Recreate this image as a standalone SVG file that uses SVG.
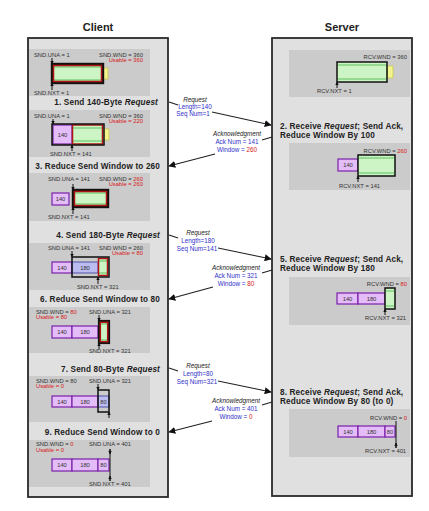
<svg xmlns="http://www.w3.org/2000/svg" width="429" height="511" viewBox="0 0 429 511">
<style>
text{font-family:"Liberation Sans",Arial,sans-serif}
.title{font-size:11px;font-weight:bold;fill:#222;text-anchor:middle}
.box{fill:#e0e0e0;stroke:#2a2a2a;stroke-width:1.8}
.panel{fill:#cbcbcb}
.lbl{font-size:5.8px;fill:#333}
.end{text-anchor:end}
.red{fill:#d81818}
.step{font-size:8.2px;font-weight:bold;fill:#222;letter-spacing:0.15px}
.sstep{font-size:8.2px;font-weight:bold;fill:#222;letter-spacing:0.15px}
.it{font-style:italic}
.seg{fill:#e4bcf7;stroke:#7a22a8;stroke-width:1.2}
.segb{fill:#bcbcf0;stroke:#5050a8;stroke-width:1}
.num{font-size:5.8px;fill:#333;text-anchor:middle}
.grn{fill:#ccf4c4}
.stripe{stroke:#5cc05c;stroke-width:1}
.blk{fill:none;stroke:#111;stroke-width:1.5}
.rd{fill:none;stroke:#b01414;stroke-width:1.5}
.yel{fill:#f4f48c;stroke:#c8c850;stroke-width:0.8}
.mk{stroke:#111;stroke-width:1}
.msg{font-size:6.3px;fill:#3030c8;text-anchor:middle}
.ack{font-size:6.3px;fill:#222;text-anchor:middle;font-style:italic}
.conn{stroke:#222;stroke-width:1.2;fill:none}
.arr{marker-end:url(#ah)}
</style>
<defs>
<marker id="ah" viewBox="0 0 10 10" refX="9" refY="5" markerWidth="7" markerHeight="7" markerUnits="userSpaceOnUse" orient="auto">
<path d="M0,0 L10,5 L0,10 z" fill="#111"/>
</marker>
<marker id="sm" viewBox="0 0 10 10" refX="9" refY="5" markerWidth="3.5" markerHeight="3.5" markerUnits="userSpaceOnUse" orient="auto">
<path d="M0,0 L10,5 L0,10 z" fill="#111"/>
</marker>
</defs>
<rect width="429" height="511" fill="#ffffff"/>

<text class="title" x="98" y="31">Client</text>
<text class="title" x="342" y="31">Server</text>

<g id="client-box"><rect class="box" x="28" y="38" width="140" height="459"/></g>
<g id="server-box"><rect class="box" x="272" y="38" width="140" height="458"/></g>

<g id="client-state0">
<rect class="panel" x="29" y="49" width="121" height="47"/>
<text class="lbl" x="34" y="57">SND.UNA = 1</text>
<text class="lbl end" x="143" y="57">SND.WND = 360</text>
<text class="lbl end red" x="143" y="62">Usable = 360</text>
<rect class="grn" x="52" y="64" width="51" height="19"/>
<line class="stripe" x1="53" y1="67" x2="102" y2="67"/><line class="stripe" x1="53" y1="80" x2="102" y2="80"/>
<rect class="yel" x="103" y="68" width="5" height="11"/>
<rect x="52" y="64" width="51" height="19" fill="none" stroke="#111" stroke-width="2.4"/>
<rect class="rd" x="53.5" y="65.5" width="48" height="16" stroke-width="1.6"/>
<line class="mk" x1="52" y1="58" x2="52" y2="64" marker-end="url(#sm)"/>
<line class="mk" x1="52" y1="90" x2="52" y2="83" marker-end="url(#sm)"/>
<text class="lbl" x="34" y="95">SND.NXT = 1</text>
</g>

<g id="step1"><text class="step end" x="158" y="105">1. Send 140-Byte <tspan class="it">Request</tspan></text></g>

<g id="client-state1">
<rect class="panel" x="29" y="110" width="121" height="47"/>
<text class="lbl" x="34" y="118">SND.UNA = 1</text>
<text class="lbl end" x="143" y="118">SND.WND = 360</text>
<text class="lbl end red" x="143" y="123">Usable = 220</text>
<rect class="seg" x="53" y="125" width="19" height="19"/>
<text class="num" x="62.5" y="136.5">140</text>
<rect class="grn" x="72" y="125" width="31" height="19"/>
<line class="stripe" x1="73" y1="128" x2="102" y2="128"/><line class="stripe" x1="73" y1="141" x2="102" y2="141"/>
<rect class="rd" x="72.5" y="125" width="30" height="19"/>
<rect class="yel" x="104" y="129" width="5" height="11"/>
<rect class="blk" x="52" y="124" width="52" height="21"/>
<line class="mk" x1="53" y1="119" x2="53" y2="124" marker-end="url(#sm)"/>
<line class="mk" x1="72" y1="151" x2="72" y2="145" marker-end="url(#sm)"/>
<text class="lbl" x="50" y="156">SND.NXT = 141</text>
</g>

<g id="step3"><text class="step end" x="160" y="169">3. Reduce Send Window to 260</text></g>

<g id="client-state3">
<rect class="panel" x="29" y="173" width="121" height="48"/>
<text class="lbl" x="48" y="181">SND.UNA = 141</text>
<text class="lbl end" x="143" y="181">SND.WND = <tspan class="red">260</tspan></text>
<text class="lbl end red" x="143" y="186">Usable = 260</text>
<rect class="seg" x="52" y="193" width="17" height="12"/>
<text class="num" x="60.5" y="201">140</text>
<rect class="grn" x="73" y="190" width="35" height="17"/>
<line class="stripe" x1="74" y1="193" x2="107" y2="193"/><line class="stripe" x1="74" y1="204" x2="107" y2="204"/>
<rect x="73" y="190" width="35" height="17" fill="none" stroke="#111" stroke-width="2.4"/>
<rect class="rd" x="74.5" y="191.5" width="32" height="14"/>
<line class="mk" x1="73" y1="184" x2="73" y2="190" marker-end="url(#sm)"/>
<line class="mk" x1="73" y1="214" x2="73" y2="207" marker-end="url(#sm)"/>
<text class="lbl" x="48" y="219">SND.NXT = 141</text>
</g>

<g id="step4"><text class="step end" x="160" y="238">4. Send 180-Byte <tspan class="it">Request</tspan></text></g>

<g id="client-state4">
<rect class="panel" x="29" y="243" width="121" height="47"/>
<text class="lbl" x="48" y="250">SND.UNA = 141</text>
<text class="lbl end" x="143" y="250">SND.WND = 260</text>
<text class="lbl end red" x="143" y="255">Usable = 80</text>
<rect class="seg" x="52" y="262" width="20" height="11"/>
<text class="num" x="62" y="269.5">140</text>
<rect class="segb" x="72" y="262" width="26" height="11"/>
<text class="num" x="85" y="269.5">180</text>
<rect class="grn" x="98" y="258" width="10" height="18"/>
<line class="stripe" x1="99" y1="261" x2="107" y2="261"/><line class="stripe" x1="99" y1="273" x2="107" y2="273"/>
<rect class="rd" x="98.5" y="258.5" width="9" height="17"/>
<rect class="blk" x="72" y="257" width="37" height="20"/>
<line class="mk" x1="72" y1="251" x2="72" y2="257" marker-end="url(#sm)"/>
<line class="mk" x1="98" y1="284" x2="98" y2="277" marker-end="url(#sm)"/>
<text class="lbl" x="77" y="289">SND.NXT = 321</text>
</g>

<g id="step6"><text class="step end" x="160" y="302">6. Reduce Send Window to 80</text></g>

<g id="client-state6">
<rect class="panel" x="29" y="307" width="121" height="46"/>
<text class="lbl" x="36" y="314">SND.WND = <tspan class="red">80</tspan></text>
<text class="lbl red" x="36" y="319">Usable = 80</text>
<text class="lbl" x="89" y="314">SND.UNA = 321</text>
<rect class="seg" x="52" y="326" width="20" height="12"/>
<text class="num" x="62" y="334">140</text>
<rect class="seg" x="72" y="326" width="26" height="12"/>
<text class="num" x="85" y="334">180</text>
<rect class="grn" x="99" y="321" width="10" height="22"/>
<line class="stripe" x1="100" y1="324" x2="108" y2="324"/><line class="stripe" x1="100" y1="340" x2="108" y2="340"/>
<rect x="99" y="321" width="10" height="22" fill="none" stroke="#111" stroke-width="2.2"/>
<rect class="rd" x="100.3" y="322.3" width="7.4" height="19.4" stroke-width="1.4"/>
<line class="mk" x1="99" y1="315" x2="99" y2="321" marker-end="url(#sm)"/>
<line class="mk" x1="99" y1="349" x2="99" y2="343" marker-end="url(#sm)"/>
<text class="lbl" x="89" y="353">SND.NXT = 321</text>
</g>

<g id="step7"><text class="step end" x="160" y="372">7. Send 80-Byte <tspan class="it">Request</tspan></text></g>

<g id="client-state7">
<rect class="panel" x="29" y="376" width="121" height="46"/>
<text class="lbl" x="36" y="383">SND.WND = 80</text>
<text class="lbl red" x="36" y="388">Usable = 0</text>
<text class="lbl" x="89" y="383">SND.UNA = 321</text>
<rect class="seg" x="52" y="396" width="20" height="11"/>
<text class="num" x="62" y="403.5">140</text>
<rect class="seg" x="72" y="396" width="26" height="11"/>
<text class="num" x="85" y="403.5">180</text>
<rect class="segb" x="98" y="396" width="11" height="11"/>
<text class="num" x="103.5" y="403.5">80</text>
<rect class="blk" x="98" y="390" width="11" height="22"/>
<line class="mk" x1="98" y1="384" x2="98" y2="390" marker-end="url(#sm)"/>
<line class="mk" x1="109" y1="418" x2="109" y2="412" marker-end="url(#sm)"/>
</g>

<g id="step9"><text class="step end" x="160" y="435">9. Reduce Send Window to 0</text></g>

<g id="client-state9">
<rect class="panel" x="29" y="440" width="121" height="47"/>
<text class="lbl" x="36" y="446">SND.WND = <tspan class="red">0</tspan></text>
<text class="lbl red" x="36" y="452">Usable = 0</text>
<text class="lbl" x="89" y="446">SND.UNA = 401</text>
<rect class="seg" x="52" y="459" width="20" height="12"/>
<text class="num" x="62" y="467">140</text>
<rect class="seg" x="72" y="459" width="26" height="12"/>
<text class="num" x="85" y="467">180</text>
<rect class="seg" x="98" y="459" width="11" height="12"/>
<text class="num" x="103.5" y="467">80</text>
<line class="mk" x1="110" y1="449" x2="110" y2="481" stroke-width="1.3"/>
<line class="mk" x1="110" y1="449" x2="110" y2="454" marker-end="url(#sm)"/>
<line class="mk" x1="110" y1="481" x2="110" y2="476" marker-end="url(#sm)"/>
<text class="lbl" x="89" y="486">SND.NXT = 401</text>
</g>

<g id="server-state0">
<rect class="panel" x="289" y="50" width="121" height="47"/>
<text class="lbl end" x="407" y="59">RCV.WND = 360</text>
<rect class="grn" x="337" y="62" width="50" height="20"/>
<line class="stripe" x1="338" y1="65" x2="386" y2="65"/><line class="stripe" x1="338" y1="79" x2="386" y2="79"/>
<rect class="yel" x="387" y="66" width="6" height="12"/>
<rect class="blk" x="337" y="62" width="50" height="20"/>
<line class="mk" x1="337" y1="88" x2="337" y2="82" marker-end="url(#sm)"/>
<text class="lbl" x="317" y="93">RCV.NXT = 1</text>
</g>

<g id="step2">
<text class="sstep" x="280" y="129">2. Receive <tspan class="it">Request</tspan>; Send Ack,</text>
<text class="sstep" x="280" y="138">Reduce Window By 100</text>
</g>

<g id="server-state2">
<rect class="panel" x="289" y="143" width="121" height="47"/>
<text class="lbl end" x="407" y="153">RCV.WND = <tspan class="red">260</tspan></text>
<rect class="seg" x="338" y="159" width="20" height="12"/>
<text class="num" x="348" y="167">140</text>
<rect class="grn" x="358" y="155" width="37" height="21"/>
<line class="stripe" x1="359" y1="158" x2="394" y2="158"/><line class="stripe" x1="359" y1="173" x2="394" y2="173"/>
<rect class="blk" x="358" y="155" width="37" height="21"/>
<line class="mk" x1="358" y1="182" x2="358" y2="176" marker-end="url(#sm)"/>
<text class="lbl" x="339" y="188">RCV.NXT = 141</text>
</g>

<g id="step5">
<text class="sstep" x="280" y="262">5. Receive <tspan class="it">Request</tspan>; Send Ack,</text>
<text class="sstep" x="280" y="271">Reduce Window By 180</text>
</g>

<g id="server-state5">
<rect class="panel" x="289" y="277" width="121" height="48"/>
<text class="lbl end" x="407" y="286">RCV.WND = <tspan class="red">80</tspan></text>
<rect class="seg" x="337" y="293" width="21" height="11"/>
<text class="num" x="347.5" y="300.5">140</text>
<rect class="seg" x="358" y="293" width="27" height="11"/>
<text class="num" x="371.5" y="300.5">180</text>
<rect class="grn" x="385" y="288" width="10" height="21"/>
<line class="stripe" x1="386" y1="291" x2="394" y2="291"/><line class="stripe" x1="386" y1="306" x2="394" y2="306"/>
<rect class="blk" x="385" y="288" width="10" height="21"/>
<line class="mk" x1="385" y1="315" x2="385" y2="309" marker-end="url(#sm)"/>
<text class="lbl" x="365" y="320">RCV.NXT = 321</text>
</g>

<g id="step8">
<text class="sstep" x="280" y="395">8. Receive <tspan class="it">Request</tspan>; Send Ack,</text>
<text class="sstep" x="280" y="404">Reduce Window By 80 (to 0)</text>
</g>

<g id="server-state8">
<rect class="panel" x="289" y="409" width="121" height="48"/>
<text class="lbl end" x="407" y="420">RCV.WND = <tspan class="red">0</tspan></text>
<rect class="seg" x="338" y="426" width="20" height="11"/>
<text class="num" x="348" y="433.5">140</text>
<rect class="seg" x="358" y="426" width="27" height="11"/>
<text class="num" x="371.5" y="433.5">180</text>
<rect class="seg" x="385" y="426" width="10" height="11"/>
<text class="num" x="390" y="433.5">80</text>
<line class="mk" x1="396" y1="421" x2="396" y2="448" stroke-width="1.3"/>
<line class="mk" x1="396" y1="448" x2="396" y2="443" marker-end="url(#sm)"/>
<text class="lbl" x="365" y="453">RCV.NXT = 401</text>
</g>

<g id="connectors">
<line class="conn" x1="169" y1="102" x2="178" y2="105"/>
<line class="conn arr" x1="212" y1="112" x2="271" y2="125"/>
<line class="conn" x1="262" y1="140" x2="272" y2="137"/>
<line class="conn arr" x1="215" y1="154" x2="169" y2="166"/>
<line class="conn" x1="169" y1="235" x2="178" y2="238"/>
<line class="conn arr" x1="218" y1="248" x2="271" y2="259"/>
<line class="conn" x1="262" y1="273" x2="272" y2="270"/>
<line class="conn arr" x1="213" y1="287" x2="169" y2="299"/>
<line class="conn" x1="169" y1="368" x2="178" y2="371"/>
<line class="conn arr" x1="218" y1="381" x2="271" y2="392"/>
<line class="conn" x1="262" y1="405" x2="272" y2="402"/>
<line class="conn arr" x1="212" y1="421" x2="169" y2="432"/>
</g>

<g id="msg-req1">
<text class="ack" x="195" y="102">Request</text>
<text class="msg" x="195" y="109">Length=140</text>
<text class="msg" x="193" y="116">Seq Num=1</text>
</g>
<g id="msg-ack1">
<text class="ack" x="237" y="136">Acknowledgment</text>
<text class="msg" x="237" y="144">Ack Num = 141</text>
<text class="msg" x="237" y="152">Window = <tspan class="red">260</tspan></text>
</g>
<g id="msg-req2">
<text class="ack" x="198" y="235">Request</text>
<text class="msg" x="198" y="243">Length=180</text>
<text class="msg" x="197" y="251">Seq Num=141</text>
</g>
<g id="msg-ack2">
<text class="ack" x="236" y="270">Acknowledgment</text>
<text class="msg" x="236" y="278">Ack Num = 321</text>
<text class="msg" x="236" y="286">Window = <tspan class="red">80</tspan></text>
</g>
<g id="msg-req3">
<text class="ack" x="198" y="368">Request</text>
<text class="msg" x="198" y="376">Length=80</text>
<text class="msg" x="197" y="384">Seq Num=321</text>
</g>
<g id="msg-ack3">
<text class="ack" x="236" y="403">Acknowledgment</text>
<text class="msg" x="236" y="411">Ack Num = 401</text>
<text class="msg" x="236" y="419">Window = <tspan class="red">0</tspan></text>
</g>
</svg>
